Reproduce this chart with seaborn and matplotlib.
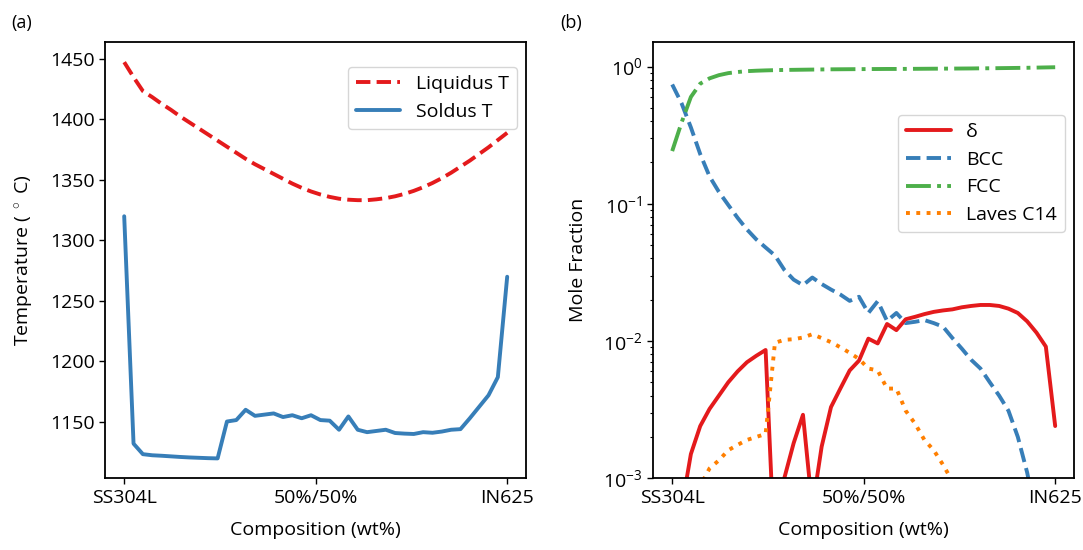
import numpy as np
import matplotlib
matplotlib.use("Agg")
import matplotlib.pyplot as plt
import seaborn as sns

# ---------------- data ----------------
composition = np.linspace(0.0, 1.0, 42)          # SS304L -> IN625 grid
tick_pos = [0.0, 0.5, 1.0]
tick_labels = ["SS304L", "50%/50%", "IN625"]

liquidus_T = [1447.4, 1435, 1423.5, 1418.5, 1413, 1408, 1402.5, 1397.5, 1392.5, 1387.5,
              1382.5, 1377.5, 1372.5, 1367.5, 1363, 1359, 1355, 1351, 1347, 1343.5,
              1340.5, 1338, 1336, 1334.5, 1333.7, 1333.3, 1333.3, 1334, 1335, 1336.5,
              1338.5, 1341, 1344, 1347.5, 1351.5, 1356, 1361, 1366, 1371.5, 1377,
              1383, 1389]
solidus_T = [1320, 1132, 1123.3, 1122.4, 1122, 1121.5, 1121, 1120.6, 1120.3, 1120,
             1119.8, 1150.3, 1151.5, 1160, 1155, 1156, 1157, 1154, 1155.5, 1153,
             1155.5, 1151.5, 1151, 1143.5, 1154.5, 1143.5, 1141.5, 1142.5, 1143.5, 1140.8,
             1140.3, 1140, 1141.5, 1141, 1142, 1143.5, 1144, 1153, 1162.5, 1172,
             1187, 1270]

delta_frac = [0.0002, 0.0006, 0.0015, 0.0024, 0.0032, 0.004, 0.005, 0.006, 0.007, 0.0078,
              0.0086, 0.00025, 0.001, 0.0018, 0.0029, 0.0006, 0.0017, 0.0033, 0.0045, 0.0061,
              0.0072, 0.0104, 0.0096, 0.0133, 0.012, 0.0144, 0.015, 0.0157, 0.0163, 0.0167,
              0.017, 0.0176, 0.018, 0.0183, 0.0183, 0.018, 0.0172, 0.016, 0.0139, 0.0115,
              0.0091, 0.0024]
bcc_frac = [0.74, 0.54, 0.36, 0.23, 0.158, 0.122, 0.098, 0.079, 0.065, 0.055,
            0.048, 0.042, 0.033, 0.028, 0.0255, 0.029, 0.026, 0.0237, 0.0218, 0.0196,
            0.021, 0.016, 0.0195, 0.014, 0.016, 0.0135, 0.0138, 0.0142, 0.0135, 0.0127,
            0.0105, 0.0088, 0.0073, 0.0063, 0.005, 0.004, 0.0031, 0.002, 0.0011, 0.0005,
            0.0003, 0.0001]
fcc_frac = [0.242, 0.39, 0.60, 0.75, 0.82, 0.865, 0.895, 0.912, 0.925, 0.932,
            0.937, 0.941, 0.944, 0.946, 0.948, 0.950, 0.952, 0.954, 0.955, 0.956,
            0.957, 0.958, 0.959, 0.96, 0.96, 0.961, 0.962, 0.963, 0.964, 0.965,
            0.966, 0.967, 0.968, 0.97, 0.971, 0.973, 0.975, 0.977, 0.979, 0.982,
            0.985, 0.988]
laves_frac = [np.nan, np.nan, 0.0005, 0.00088, 0.00118, 0.00135, 0.0016, 0.00175, 0.0019, 0.002,
              0.0021, 0.0097, 0.0102, 0.0103, 0.0106, 0.0112, 0.0105, 0.0098, 0.009, 0.0082,
              0.0074, 0.0063, 0.0061, 0.0045, 0.0045, 0.0031, 0.0025, 0.0019, 0.0016, 0.00125,
              0.00095, 0.0007, np.nan, np.nan, np.nan, np.nan, np.nan, np.nan, np.nan, np.nan,
              np.nan, np.nan]

# ---------------- style ----------------
sns.set_theme(style="ticks")
plt.rcParams["font.family"] = ["Open Sans", "DejaVu Sans"]
plt.rcParams["mathtext.fontset"] = "custom"
plt.rcParams["mathtext.rm"] = "Open Sans"
plt.rcParams["mathtext.it"] = "Open Sans:italic"
plt.rcParams["text.color"] = "black"
plt.rcParams["axes.labelcolor"] = "black"
plt.rcParams["axes.edgecolor"] = "black"
plt.rcParams["axes.linewidth"] = 1.3
FS = 14
for a in ("xtick", "ytick"):
    plt.rcParams[f"{a}.major.size"] = 4
    plt.rcParams[f"{a}.major.width"] = 1.0
    plt.rcParams[f"{a}.minor.size"] = 2.5
    plt.rcParams[f"{a}.minor.width"] = 0.8
    plt.rcParams[f"{a}.color"] = "black"
    plt.rcParams[f"{a}.labelcolor"] = "black"
    plt.rcParams[f"{a}.labelsize"] = FS
plt.rcParams["axes.labelsize"] = FS
plt.rcParams["legend.fontsize"] = FS

red, blue, green, orange = "#e41a1c", "#377eb8", "#4daf4a", "#ff7f00"
LW = 2.8

fig = plt.figure(figsize=(10.83, 5.5), dpi=100)
ax1 = fig.add_axes([0.097, 0.1305, 0.389, 0.7925])
ax2 = fig.add_axes([0.603, 0.1305, 0.389, 0.7925])

# ---- panel (a) ----
sns.lineplot(x=composition, y=liquidus_T, ax=ax1, color=red, lw=LW, linestyle="--",
             label="Liquidus T", estimator=None, sort=False)
sns.lineplot(x=composition, y=solidus_T, ax=ax1, color=blue, lw=LW, linestyle="-",
             label="Soldus T", estimator=None, sort=False)
ax1.set_yticks([1150, 1200, 1250, 1300, 1350, 1400, 1450])
ax1.set_xticks(tick_pos)
ax1.set_xticklabels(tick_labels)
ax1.set_xlabel("Composition (wt%)", labelpad=10)
ax1.set_ylabel(r"Temperature ( $^\circ$ C)", labelpad=10)
ax1.legend(loc="upper right", bbox_to_anchor=(1.0, 0.965), handlelength=2.3, frameon=True)

# ---- panel (b) ----
sns.lineplot(x=composition, y=delta_frac, ax=ax2, color=red, lw=LW, linestyle="-",
             label="δ", estimator=None, sort=False)
sns.lineplot(x=composition, y=bcc_frac, ax=ax2, color=blue, lw=LW, linestyle="--",
             label="BCC", estimator=None, sort=False)
sns.lineplot(x=composition, y=fcc_frac, ax=ax2, color=green, lw=LW, linestyle="-.",
             label="FCC", estimator=None, sort=False)
sns.lineplot(x=composition, y=laves_frac, ax=ax2, color=orange, lw=LW, linestyle=":",
             label="Laves C14", estimator=None, sort=False)
ax2.set_yscale("log")
ax2.set_ylim(1e-3, 1.5)
ax2.set_xticks(tick_pos)
ax2.set_xticklabels(tick_labels)
ax2.set_xlabel("Composition (wt%)", labelpad=10)
ax2.set_ylabel("Mole Fraction", labelpad=12)
ax2.legend(loc="upper right", bbox_to_anchor=(1.0, 0.855), handlelength=2.3, frameon=True)

for ax in (ax1, ax2):
    ax.set_xlim(-0.05, 1.05)
    for s in ax.spines.values():
        s.set_visible(True)

fig.text(0.010, 0.975, "(a)", fontsize=13, va="top", ha="left")
fig.text(0.517, 0.975, "(b)", fontsize=13, va="top", ha="left")

fig.savefig("out.png", dpi=100, facecolor="white")
